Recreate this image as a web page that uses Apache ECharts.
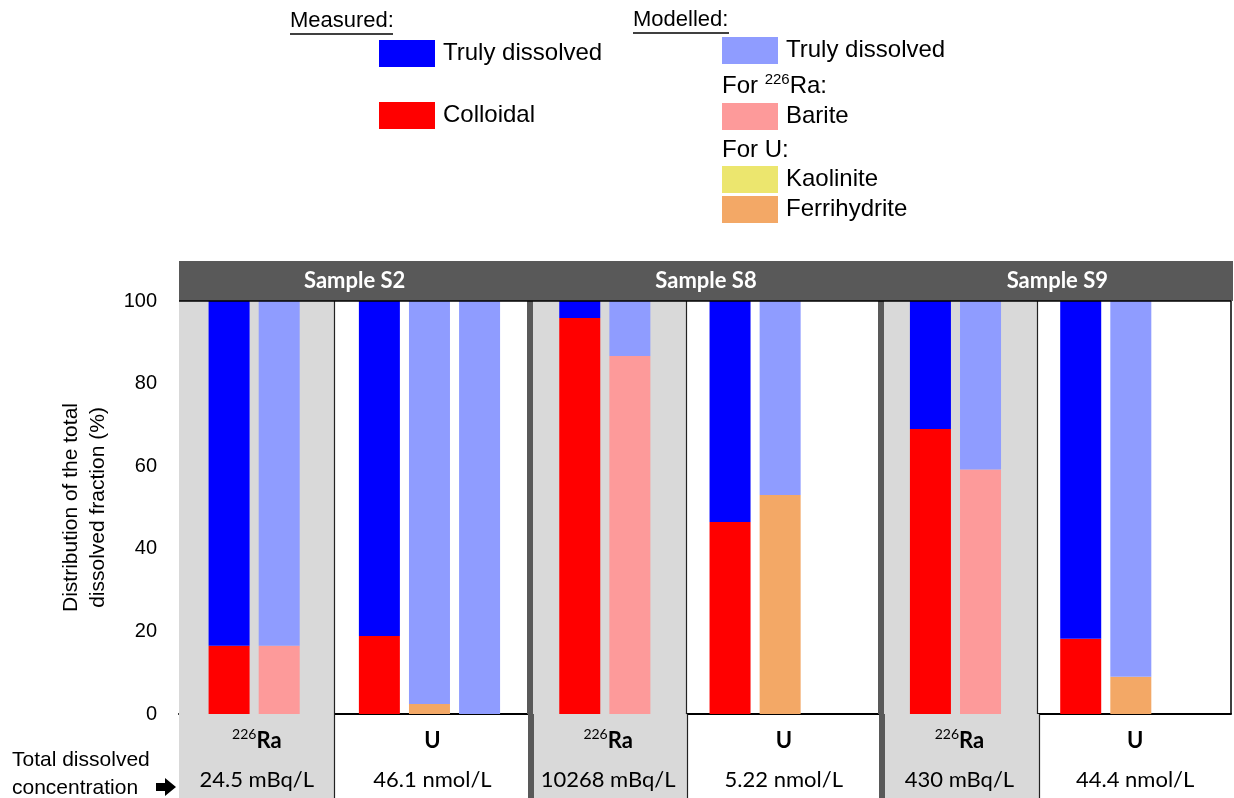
<!DOCTYPE html>
<html>
<head>
<meta charset="utf-8">
<script src="https://cdn.jsdelivr.net/npm/echarts@6/dist/echarts.min.js"></script>
<style>
html, body { margin: 0; padding: 0; background: #fff; }
#chart { width: 1234px; height: 798px; }
</style>
</head>
<body>
<div id="chart"></div>
<script>
// x axis runs in bar slots: each sample takes seven slots (-1..6, 6..13, 13..20)
const slotNames = ['s-1', 's0', 's1', 's2', 's3', 's4', 's5', 's6', 's7', 's8', 's9', 's10',
    's11', 's12', 's13', 's14', 's15', 's16', 's17', 's18', 's19', 's20'];
const sampleNames = ['Sample S2', 'Sample S8', 'Sample S9'];
const sampleCenters = [2.5, 9.5, 16.5];
const raBands = [[-1, 2.1], [6, 9.12], [13, 16.14]];
const thinLines = [2.1, 9.12, 16.14];
const thickLines = [6, 13];

// measured fractions (%)
const measuredSlots = ['s0', 's3', 's7', 's10', 's14', 's17'];
const measuredColloidal = [16.5, 18.9, 95.9, 46.5, 69.0, 18.2];
const measuredTruly = [83.5, 81.1, 4.1, 53.5, 31.0, 81.8];

// modelled fractions (%)
const modelSlots = ['s1', 's4', 's5', 's8', 's11', 's15', 's18'];
const modelBarite = [16.5, 0, 0, 86.7, 0, 59.2, 0];
const modelKaolinite = [0, 0, 0, 0, 0, 0, 0];
const modelFerrihydrite = [0, 2.4, 0, 0, 53.0, 0, 9.0];
const modelTruly = [83.5, 97.6, 100, 13.3, 47.0, 40.8, 91.0];

// table under the plot
const columnCenters = [0.55, 4.05, 7.55, 11.05, 14.55, 18.05];
const massNumbers = ['226', '', '226', '', '226', ''];
const elements = ['Ra', 'U', 'Ra', 'U', 'Ra', 'U'];
const concentrations = ['24.5 mBq/L', '46.1 nmol/L', '10268 mBq/L', '5.22 nmol/L', '430 mBq/L', '44.4 nmol/L'];

const arial = '"Liberation Sans", Arial, sans-serif';
const calibri = 'Lato, "Open Sans", sans-serif';

const chart = echarts.init(document.getElementById('chart'));

function pairs(xs, ys) {
    return xs.map((x, i) => [x, ys[i]]);
}

function bar(name, stack, slots, values, color) {
    return {
        name: name,
        type: 'bar',
        stack: stack,
        xAxisIndex: 0,
        yAxisIndex: 0,
        barWidth: 41,
        barGap: '-100%',
        z: 3,
        itemStyle: { color: color },
        data: pairs(slots, values)
    };
}

// grey 226Ra columns plus the thin and thick separators
function background(xIndex, yIndex, frame) {
    let lines = thinLines.map(x => ({ xAxis: x, lineStyle: { color: '#222', width: 1.2, type: 'solid' } }))
        .concat(thickLines.map(x => ({ xAxis: x, lineStyle: { color: '#595959', width: 6, type: 'solid' } })));
    if (frame) {
        lines.push({ yAxis: 100, lineStyle: { color: '#000', width: 1.5, type: 'solid' } });
        lines.push({ xAxis: 20, lineStyle: { color: '#000', width: 1.5, type: 'solid' } });
    }
    return {
        type: 'scatter',
        xAxisIndex: xIndex,
        yAxisIndex: yIndex,
        data: [],
        silent: true,
        z: 1,
        markArea: {
            silent: true,
            itemStyle: { color: '#d9d9d9' },
            data: raBands.map(b => [{ xAxis: b[0] }, { xAxis: b[1] }])
        },
        markLine: {
            silent: true,
            symbol: ['none', 'none'],
            label: { show: false },
            data: lines
        }
    };
}

// table labels: isotope row and concentration row
let tableData = [];
columnCenters.forEach((x, i) => {
    tableData.push({
        value: [x, 0.68],
        label: {
            formatter: massNumbers[i] ? '{sup|' + massNumbers[i] + '}{b|' + elements[i] + '}' : '{b|' + elements[i] + '}'
        }
    });
    tableData.push({
        value: [x, 0.21],
        label: { formatter: concentrations[i], fontSize: 22, fontFamily: calibri, color: '#000' }
    });
});

const hiddenX = (grid, pos) => ({ gridIndex: grid, type: 'value', min: -1, max: 20, show: false, position: pos });
const hiddenY = i => ({ gridIndex: i, type: 'value', min: 0, max: 1, show: false });

const legendBase = {
    orient: 'vertical',
    padding: 0,
    itemWidth: 56,
    itemHeight: 27,
    icon: 'rect',
    selectedMode: false,
    textStyle: { fontSize: 24, fontFamily: arial, color: '#000', padding: [0, 0, 0, 3] }
};

const option = {
    animation: false,
    backgroundColor: '#fff',
    grid: [
        { left: 179, right: 3, top: 301, height: 413 },
        { left: 179, right: 1, top: 714, height: 84 },
        { left: 179, right: 1, top: 261, height: 40 }
    ],
    xAxis: [
        {
            gridIndex: 0, type: 'category', data: slotNames, boundaryGap: false,
            axisLine: { show: true, lineStyle: { color: '#000', width: 2 } },
            axisTick: { show: false },
            axisLabel: { show: false },
            splitLine: { show: false }
        },
        hiddenX(0, 'top'),
        hiddenX(1, 'bottom'),
        hiddenX(2, 'bottom')
    ],
    yAxis: [
        {
            gridIndex: 0, type: 'value', min: 0, max: 100, interval: 20,
            name: 'Distribution of the total\ndissolved fraction (%)',
            nameLocation: 'middle',
            nameRotate: 90,
            nameGap: 67,
            nameTextStyle: { fontSize: 21, lineHeight: 27, fontFamily: arial, color: '#000' },
            axisLine: { show: true, lineStyle: { color: '#000', width: 1.5 } },
            axisTick: { show: true, length: 11, lineStyle: { color: '#000', width: 1.5 } },
            minorTick: { show: true, splitNumber: 2, length: 6, lineStyle: { color: '#000', width: 1.5 } },
            axisLabel: { fontSize: 20, fontFamily: arial, color: '#000', margin: 22 },
            splitLine: { show: false }
        },
        hiddenY(1),
        hiddenY(2)
    ],
    legend: [
        Object.assign({}, legendBase, { data: ['Truly dissolved', 'Colloidal'], left: 379, top: 40, itemGap: 35 }),
        Object.assign({}, legendBase, { data: ['Truly dissolved (modelled)'], left: 722, top: 37, formatter: () => 'Truly dissolved' }),
        Object.assign({}, legendBase, { data: ['Barite'], left: 722, top: 103 }),
        Object.assign({}, legendBase, { data: ['Kaolinite', 'Ferrihydrite'], left: 722, top: 166, itemGap: 3 })
    ],
    graphic: [
        { type: 'text', x: 290, y: 21, style: { text: 'Measured:', fontSize: 22, fontFamily: arial, fill: '#000', verticalAlign: 'middle' } },
        { type: 'line', shape: { x1: 290, y1: 34, x2: 393, y2: 34 }, style: { stroke: '#000', lineWidth: 1.5 } },
        { type: 'text', x: 633, y: 20, style: { text: 'Modelled:', fontSize: 22, fontFamily: arial, fill: '#000', verticalAlign: 'middle' } },
        { type: 'line', shape: { x1: 633, y1: 33, x2: 729, y2: 33 }, style: { stroke: '#000', lineWidth: 1.5 } },
        {
            type: 'text', x: 722, y: 86,
            style: {
                text: '{n|For }{sup|226}{n|Ra:}',
                verticalAlign: 'middle',
                rich: {
                    n: { fontSize: 24, fontFamily: arial, fill: '#000', lineHeight: 28 },
                    sup: { fontSize: 15, fontFamily: arial, fill: '#000', lineHeight: 16, verticalAlign: 'top' }
                }
            }
        },
        { type: 'text', x: 722, y: 150, style: { text: 'For U:', fontSize: 24, fontFamily: arial, fill: '#000', verticalAlign: 'middle' } },
        { type: 'text', x: 12, y: 760, style: { text: 'Total dissolved', fontSize: 21, fontFamily: arial, fill: '#000', verticalAlign: 'middle' } },
        { type: 'text', x: 12, y: 788, style: { text: 'concentration', fontSize: 21, fontFamily: arial, fill: '#000', verticalAlign: 'middle' } },
        {
            type: 'polygon',
            shape: { points: [[156, 783], [165, 783], [165, 778], [176, 787], [165, 796], [165, 791], [156, 791]] },
            style: { fill: '#000' }
        }
    ],
    series: [
        background(1, 0, true),
        bar('Colloidal', 'measured', measuredSlots, measuredColloidal, '#ff0000'),
        bar('Truly dissolved', 'measured', measuredSlots, measuredTruly, '#0000ff'),
        bar('Barite', 'model', modelSlots, modelBarite, '#fd9a9a'),
        bar('Kaolinite', 'model', modelSlots, modelKaolinite, '#ece66e'),
        bar('Ferrihydrite', 'model', modelSlots, modelFerrihydrite, '#f3a866'),
        bar('Truly dissolved (modelled)', 'model', modelSlots, modelTruly, '#8f9cff'),
        background(2, 1, false),
        {
            type: 'scatter',
            xAxisIndex: 2,
            yAxisIndex: 1,
            symbolSize: 0,
            silent: true,
            z: 4,
            itemStyle: { opacity: 1 },
            data: tableData,
            label: {
                show: true,
                position: 'inside',
                color: '#000',
                textBorderWidth: 0,
                rich: {
                    b: { fontSize: 22, fontWeight: 'bold', fontFamily: calibri, color: '#000', lineHeight: 26, textBorderWidth: 0 },
                    sup: { fontSize: 14, fontFamily: calibri, color: '#000', lineHeight: 16, verticalAlign: 'top', textBorderWidth: 0 }
                }
            }
        },
        {
            // dark header strip
            type: 'scatter',
            xAxisIndex: 3,
            yAxisIndex: 2,
            data: [],
            silent: true,
            z: 1,
            markArea: {
                silent: true,
                itemStyle: { color: '#595959' },
                data: [[{ xAxis: -1 }, { xAxis: 20 }]]
            }
        },
        {
            // sample names on the header
            type: 'scatter',
            xAxisIndex: 3,
            yAxisIndex: 2,
            symbolSize: 0,
            silent: true,
            z: 5,
            itemStyle: { opacity: 1 },
            data: sampleCenters.map(x => [x, 0.5]),
            label: {
                show: true,
                position: 'inside',
                color: '#fff',
                textBorderWidth: 0,
                fontWeight: 'bold',
                fontSize: 22,
                fontFamily: calibri,
                formatter: p => sampleNames[p.dataIndex]
            }
        }
    ]
};

chart.setOption(option);
</script>
</body>
</html>
